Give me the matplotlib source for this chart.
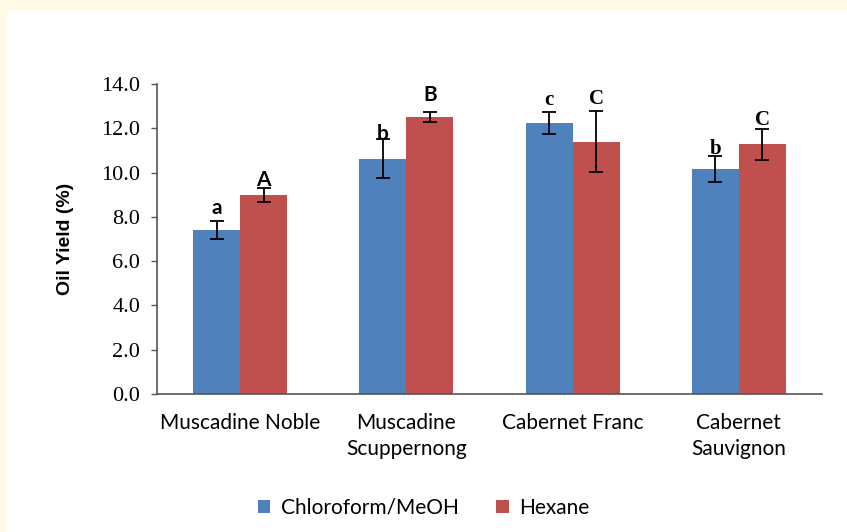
import matplotlib
matplotlib.use('Agg')
import matplotlib.pyplot as plt
from matplotlib.patches import Rectangle
import numpy as np

# data
categories = ['Muscadine Noble', 'Muscadine\nScuppernong', 'Cabernet Franc', 'Cabernet\nSauvignon']
chloroform = [7.41, 10.63, 12.25, 10.15]
chloroform_err = [0.40, 0.88, 0.49, 0.58]
hexane = [8.99, 12.50, 11.40, 11.29]
hexane_err = [0.30, 0.23, 1.39, 0.70]
chloroform_letters = ['a', 'b', 'c', 'b']
hexane_letters = ['A', 'B', 'C', 'C']
chloroform_letter_y = [8.15, 11.45, 13.05, 10.85]
hexane_letter_y = [9.40, 13.25, 13.10, 12.15]
y_ticks = [0, 2, 4, 6, 8, 10, 12, 14]

blue = '#4F81BD'
red = '#C0504D'

fig = plt.figure(figsize=(8.47, 5.32), dpi=100, facecolor='#FFFBE6')
# white chart area inside the cream frame
fig.patches.append(Rectangle((7 / 847, 0), 1, 1 - 11 / 532, transform=fig.transFigure,
                             facecolor='white', edgecolor='none', zorder=-5))

ax = fig.add_axes([0.1854, 0.2594, 0.7851, 0.5827])
ax.set_facecolor('white')

x = np.arange(len(categories))
w = 0.283
err_kw = dict(ecolor='black', elinewidth=1.3, capsize=5, capthick=1.3)
ax.bar(x - w / 2, chloroform, w, yerr=chloroform_err, color=blue, error_kw=err_kw,
       label='Chloroform/MeOH', zorder=2)
ax.bar(x + w / 2, hexane, w, yerr=hexane_err, color=red, error_kw=err_kw,
       label='Hexane', zorder=2)

# significance letters
for i in range(len(categories)):
    fam = 'Lato' if i < 2 else 'Liberation Serif'
    ax.text(x[i] - w / 2, chloroform_letter_y[i], chloroform_letters[i], ha='center', va='baseline',
            fontsize=15, fontweight='bold', family=fam, zorder=3)
    ax.text(x[i] + w / 2, hexane_letter_y[i], hexane_letters[i], ha='center', va='baseline',
            fontsize=15, fontweight='bold', family=fam, zorder=3)

ax.set_xlim(-0.5, len(categories) - 0.5)
ax.set_ylim(0, 14)
ax.set_yticks(y_ticks)
ax.set_yticklabels([f'{v:.1f}' for v in y_ticks], family='Liberation Serif', fontsize=16)
ax.set_xticks(x)
ax.set_xticklabels(categories, family='Lato', fontsize=15, linespacing=1.35)
ax.tick_params(axis='x', length=0, pad=14)
ax.tick_params(axis='y', direction='out', length=4, width=1, color='#555555', pad=8)

for side in ['top', 'right']:
    ax.spines[side].set_visible(False)
for side in ['left', 'bottom']:
    ax.spines[side].set_color('#555555')
    ax.spines[side].set_linewidth(1.2)

ax.set_ylabel('Oil Yield (%)', family='Liberation Sans', fontweight='bold', fontsize=14, labelpad=20)

fig.legend(loc='center', bbox_to_anchor=(0.5, 1 - 508 / 532), ncol=2, frameon=False,
           prop={'family': 'Lato', 'size': 15}, handlelength=0.6, handleheight=0.6,
           handletextpad=0.5, columnspacing=1.8)

fig.savefig('out.png', dpi=100, facecolor=fig.get_facecolor())
